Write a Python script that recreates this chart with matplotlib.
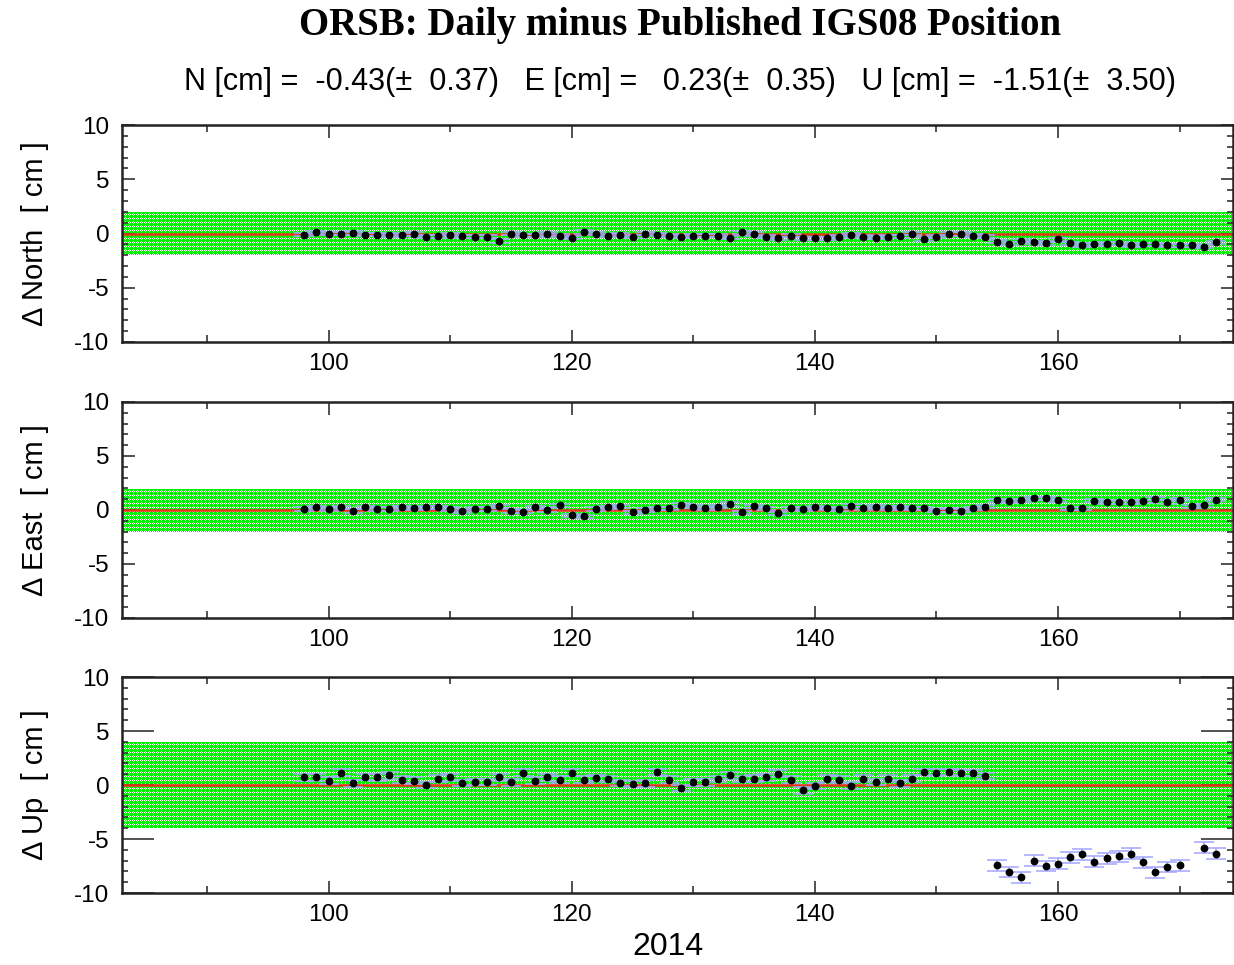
"""
ORSB daily-minus-published IGS08 position residuals, three stacked panels
(North / East / Up) with the +-band and the red zero line.
"""

import numpy as np
import matplotlib
matplotlib.use("Agg")
import matplotlib.pyplot as plt
from matplotlib.ticker import MultipleLocator

plt.rcParams["font.family"] = ["Liberation Sans", "DejaVu Sans"]
plt.rcParams["axes.unicode_minus"] = False

# day of year 2014
days = np.arange(98, 174)

north = [-0.1, 0.1, 0.0, 0.0, 0.05, -0.1, -0.1, -0.15, -0.1, -0.05, -0.3, -0.25, -0.1, -0.25,
         -0.3, -0.3, -0.7, 0.0, -0.15, -0.15, -0.05, -0.2, -0.4, 0.15, 0.0, -0.2, -0.1, -0.3,
         0.0, -0.1, -0.2, -0.3, -0.2, -0.2, -0.2, -0.4, 0.1, -0.05, -0.3, -0.45, -0.2, -0.45,
         -0.45, -0.45, -0.3, -0.1, -0.3, -0.4, -0.3, -0.25, 0.0, -0.5, -0.3, -0.05, -0.05, -0.2,
         -0.3, -0.75, -0.95, -0.65, -0.8, -0.9, -0.55, -0.9, -1.1, -1.0, -0.95, -0.9, -1.1, -1.0,
         -1.0, -1.1, -1.1, -1.1, -1.2, -0.8]
east = [0.1, 0.25, 0.1, 0.25, -0.1, 0.25, 0.1, 0.1, 0.25, 0.15, 0.25, 0.25, 0.1, -0.1,
        0.1, 0.1, 0.35, -0.1, -0.15, 0.25, 0.0, 0.45, -0.5, -0.6, 0.1, 0.25, 0.35, -0.2,
        0.0, 0.15, 0.15, 0.5, 0.3, 0.15, 0.3, 0.55, -0.2, 0.35, 0.15, -0.3, 0.15, 0.05,
        0.25, 0.15, 0.05, 0.4, 0.15, 0.3, 0.15, 0.25, 0.15, 0.15, -0.05, 0.0, -0.05, 0.15,
        0.3, 0.9, 0.8, 0.9, 1.1, 1.1, 0.9, 0.15, 0.15, 0.85, 0.75, 0.7, 0.7, 0.8, 1.05,
        0.75, 0.95, 0.35, 0.45, 0.95]
up = [0.7, 0.7, 0.4, 1.15, 0.15, 0.75, 0.7, 0.9, 0.5, 0.4, 0.0, 0.6, 0.7, 0.2,
      0.3, 0.3, 0.7, 0.25, 1.15, 0.4, 0.7, 0.5, 1.15, 0.5, 0.65, 0.55, 0.2, 0.1,
      0.15, 1.2, 0.5, -0.3, 0.25, 0.25, 0.55, 0.9, 0.55, 0.6, 0.7, 1.05, 0.5, -0.5,
      -0.1, 0.6, 0.5, -0.05, 0.6, 0.3, 0.6, 0.15, 0.6, 1.2, 1.15, 1.2, 1.1, 1.1, 0.85,
      -7.45, -8.05, -8.55, -7.0, -7.5, -7.3, -6.7, -6.4, -7.1, -6.8, -6.6, -6.35, -7.15,
      -8.1, -7.6, -7.45, np.nan, -5.8, -6.35]

north_err = [0.15] * 76
east_err = [0.15] * 76
up_err = [0.3] * 57 + [0.5] * 19

bands = [2.0, 2.0, 4.0]
ylabels = ["\u0394 North  [ cm ]", "\u0394 East  [ cm ]", "\u0394 Up  [ cm ]"]
title = "ORSB: Daily minus Published IGS08 Position"
subtitle = ("N [cm] =  -0.43(\u00b1  0.37)   E [cm] =   0.23(\u00b1  0.35)   "
            "U [cm] =  -1.51(\u00b1  3.50)")

W, H = 1234, 965
fig = plt.figure(figsize=(W / 100, H / 100), dpi=100)

# panel boxes in pixels: (top, bottom)
boxes = [(125, 342), (402, 618), (677, 893)]
left, right = 122, 1233
xlim = (83, 174.4)
series = [(north, north_err), (east, east_err), (up, up_err)]

# 4x4 px texture of the band: small white pixel rings on bright green
G, Wt = (0, 240, 0), (255, 255, 255)
tile = np.array([[G, G, G, G],
                 [G, G, Wt, G],
                 [G, Wt, G, Wt],
                 [G, G, Wt, G]], dtype=np.uint8)

for i, ((top, bot), (vals, err), band, lab) in enumerate(zip(boxes, series, bands, ylabels)):
    ax = fig.add_axes([left / W, 1 - bot / H, (right - left) / W, (bot - top) / H])
    ax.set_facecolor("none")
    # band texture placed pixel for pixel behind the (transparent) axes
    half = band / 20 * (bot - top)
    ctr = (top + bot) / 2
    nrow = int(round(2 * half / 4)) + 1
    ncol = int(round((right - left) / 4)) + 1
    tex = np.tile(tile, (nrow, ncol, 1))[: int(round(2 * half)), : right - left - 2]
    fig.figimage(tex, xo=left + 1, yo=int(round(H - ctr - half)), origin="upper", zorder=-1)

    ax.axhline(0, color="#e8301c", lw=1.8, zorder=2)
    ax.errorbar(days, vals, yerr=err, fmt="o", color="black", ms=4.6, ecolor="#a2a6ff",
                elinewidth=1.1, capsize=7, capthick=1.1, zorder=3)
    ax.set_xlim(*xlim)
    ax.set_ylim(-10, 10)
    ax.xaxis.set_major_locator(MultipleLocator(20))
    ax.xaxis.set_minor_locator(MultipleLocator(10))
    ax.yaxis.set_major_locator(MultipleLocator(5))
    ax.yaxis.set_minor_locator(MultipleLocator(1))
    ax.tick_params(which="both", direction="in", top=True, right=True,
                   labelsize=17.5, width=1.2, color="#333333")
    ax.tick_params(axis="x", which="major", length=9, pad=8)
    ax.tick_params(axis="x", which="minor", length=5)
    ax.tick_params(axis="y", which="major", length=23 if i == 2 else 9, pad=9)
    ax.tick_params(axis="y", which="minor", length=4)
    for s in ax.spines.values():
        s.set_linewidth(1.8)
        s.set_color("#222222")
    fig.text(35 / W, 1 - ctr / H, lab, rotation=90, ha="center", va="center", fontsize=21)

fig.text(680 / W, 1 - 25 / H, title, ha="center", va="center", fontsize=28,
         fontweight="bold", family="Liberation Serif")
fig.text(680 / W, 1 - 82 / H, subtitle, ha="center", va="center", fontsize=22)
fig.text(668 / W, 1 - 947 / H, "2014", ha="center", va="center", fontsize=23)

fig.savefig("out.png", dpi=100)
